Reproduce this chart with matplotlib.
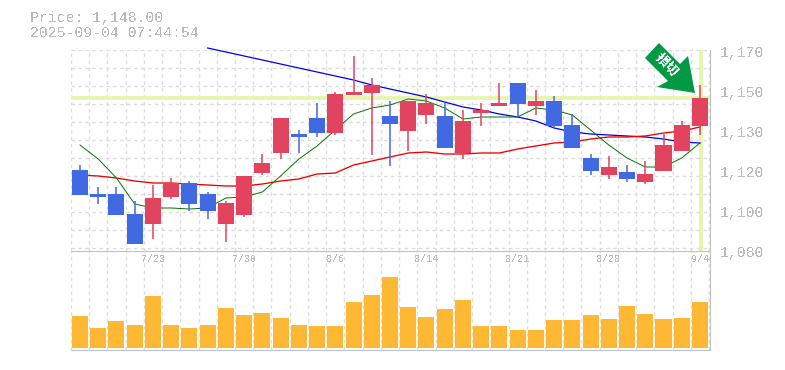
# -*- coding: utf-8 -*-
import matplotlib
matplotlib.use('Agg')
import matplotlib.pyplot as plt
from matplotlib.patches import Polygon

plt.rcParams['font.family'] = ['Liberation Mono', 'Noto Sans CJK JP', 'DejaVu Sans']
plt.rcParams['text.antialiased'] = False

# daily candles
opens = [1112, 1100, 1100, 1090, 1085, 1098.5, 1105.5, 1100, 1085, 1089.5, 1110.5, 1120.5,
         1130, 1138, 1130.5, 1149.5, 1150.5, 1139, 1131.5, 1139.5, 1139, 1120.5, 1140.5, 1144,
         1155.5, 1144, 1146.5, 1134.5, 1118, 1109.5, 1111, 1106, 1111.5, 1121.5, 1134]
closes = [1099.5, 1098.5, 1089.5, 1075, 1098, 1105.5, 1095, 1091.5, 1095.5, 1109, 1115.5, 1138,
          1128.5, 1130.5, 1150, 1151, 1154.5, 1135, 1146.5, 1145.5, 1123, 1136.5, 1142, 1145.5,
          1145, 1146.5, 1134, 1123, 1111.5, 1113.5, 1107.5, 1110, 1124.5, 1134.5, 1148]
highs = [1114.5, 1103.5, 1103.5, 1096.5, 1104.5, 1108, 1106.5, 1101, 1096.5, 1109, 1120, 1138,
         1132, 1145.5, 1151, 1169, 1158, 1146.5, 1146.5, 1150, 1145.5, 1142, 1145.5, 1155.5,
         1155.5, 1152, 1149, 1140, 1120, 1119, 1114.5, 1116.5, 1130, 1136.5, 1154.5]
lows = [1099.5, 1095, 1089.5, 1075, 1077.5, 1097.5, 1091.5, 1087.5, 1076, 1088.5, 1109.5, 1117.5,
        1120.5, 1128.5, 1129.5, 1149.5, 1119.5, 1114, 1121.5, 1135, 1123, 1117.5, 1134, 1144,
        1138.5, 1139.5, 1133, 1123, 1109.5, 1107.5, 1106, 1105, 1111.5, 1121.5, 1129.5]
volumes = [32, 20, 27, 23, 52, 23, 20, 23, 40, 33, 35, 30, 23, 22, 22, 46, 53, 71,
           41, 31, 39, 48, 22, 22, 18, 18, 28, 28, 33, 29, 42, 34, 29, 30, 46]

ma_short = [1124.5, 1117.5, 1108, 1095, 1093, 1093, 1092.5, 1093, 1098, 1098.5, 1101, 1109,
            1117.5, 1124, 1132, 1140, 1143, 1144.5, 1147.5, 1146.5, 1143, 1137.5, 1138.5, 1138.5,
            1138.5, 1143, 1142, 1139.5, 1132, 1124.5, 1118, 1113.5, 1113.5, 1118, 1125.5]
ma_mid = [1109.5, 1109, 1108, 1106.5, 1105.5, 1105.5, 1105, 1104.5, 1104, 1104, 1105, 1106.5,
          1107.5, 1110, 1110.5, 1114.5, 1116.5, 1118.5, 1120.5, 1121, 1120, 1120, 1120.5, 1120.5,
          1122.5, 1124, 1125.5, 1126, 1127.5, 1128.5, 1128.5, 1129, 1130.5, 1131.5, 1133.5]
trend_idx = list(range(7, 35))
trend = [1173, 1171, 1169, 1167, 1165, 1163, 1161, 1159, 1157, 1154.5, 1152.5, 1150.5, 1148.5,
         1146, 1143.5, 1142, 1140, 1138.5, 1136.5, 1133, 1131, 1130, 1129.5, 1129, 1128.5,
         1127.5, 1126, 1125.5]

date_idx = [4, 9, 14, 19, 24, 29, 34]
date_labels = ['7/23', '7/30', '8/6', '8/14', '8/21', '8/28', '9/4']
price_labels = ['1,170', '1,150', '1,130', '1,120', '1,100', '1,080']
last_price = 1148
x = list(range(len(opens)))

W, H = 785, 370
fig = plt.figure(figsize=(W / 100, H / 100), dpi=100)
L, R = 70.5, 710.0
T, M, B = 50.0, 250.5, 350.0
ax = fig.add_axes([L / W, 1 - M / H, (R - L) / W, (M - T) / H])
ax2 = fig.add_axes([L / W, 1 - B / H, (R - L) / W, (B - M) / H])

pitch = 18.235
xlim = ((L - 80) / pitch, (R - 80) / pitch)
GRAY = '#c0c0c0'
GRID = '#dcdcdc'
TXT = '#bababa'
grid_x = [i - 0.5 for i in range(0, 36)]

for a in (ax, ax2):
    a.set_xlim(*xlim)
    a.set_facecolor('none')
    a.tick_params(length=0)
    for s in a.spines.values():
        s.set_visible(False)
    a.set_xticks(grid_x)
    a.set_xticklabels([])
    a.grid(True, axis='x', color=GRID, lw=1, ls=(0, (2.5, 2.5)))
    a.set_axisbelow(True)

# price scale: 2 px per yen with the 1,148 line at y=98
ax.set_ylim(1197 - M / 2, 1197 - T / 2)
ax.set_yticks([1172 - 9.0 * i for i in range(0, 12)])
ax.set_yticklabels([])
ax.grid(True, axis='y', color=GRID, lw=1, ls=(0, (2.5, 2.5)))
ax2.set_ylim(-2, 97.5)
ax2.set_yticks([])

# highlight of the last price and last day
ax.axhline(last_price, color='#e5f5a9', lw=2.6, zorder=1)
ax.axvline(34.05, color='#e5f5a9', lw=2.6, zorder=1)

# moving averages sit under the candles
ax.plot(trend_idx, trend, color='#0000ee', lw=0.9, zorder=2, clip_on=False)
ax.plot(x, ma_mid, color='#ee0000', lw=0.95, zorder=2)
ax.plot(x, ma_short, color='#007700', lw=0.7, zorder=2)

for i in x:
    c = '#e2435f' if closes[i] >= opens[i] else '#4169e1'
    ax.vlines(i, lows[i], highs[i], color=c, lw=1.1, zorder=3)
    ax.bar(i, abs(closes[i] - opens[i]), bottom=min(opens[i], closes[i]), width=0.88, color=c, zorder=3)

ax2.bar(x, volumes, width=0.88, color='#ffb833', zorder=3)

# frame: right of both panels, the divider, the bottom
for a in (ax, ax2):
    for side in ('bottom', 'right'):
        a.spines[side].set_visible(True)
        a.spines[side].set_color(GRAY)

for i, lab in zip(date_idx, date_labels):
    ax2.text(i, 88.5, lab, ha='center', va='center', color=TXT, fontsize=7.2, zorder=4)

tick_ys = [53, 93, 133, 173, 213, 253]
for yy, lab in zip(tick_ys, price_labels):
    fig.text(720 / W, 1 - yy / H, lab, ha='left', va='center', color=TXT, fontsize=10.7)

fig.text(30 / W, 1 - 18 / H, 'Price: 1,148.00', ha='left', va='center', color=TXT, fontsize=10.7)
fig.text(30 / W, 1 - 33 / H, '2025-09-04 07:44:54', ha='left', va='center', color=TXT, fontsize=10.7)

# green signal arrow in figure pixels
arrow_px = [(659, 43), (645, 58), (668, 81), (657, 87), (695, 93), (688, 56), (680, 64)]
fig.add_artist(Polygon([(px / W, 1 - py / H) for px, py in arrow_px], closed=True,
                       transform=fig.transFigure, facecolor='#009944', edgecolor='none', zorder=5))
fig.text(666 / W, 1 - 65 / H, '損切', rotation=-45, ha='center', va='center', color='white',
         fontsize=9.5, fontweight='bold', rotation_mode='anchor', zorder=6)

fig.savefig('out.png', dpi=100)
